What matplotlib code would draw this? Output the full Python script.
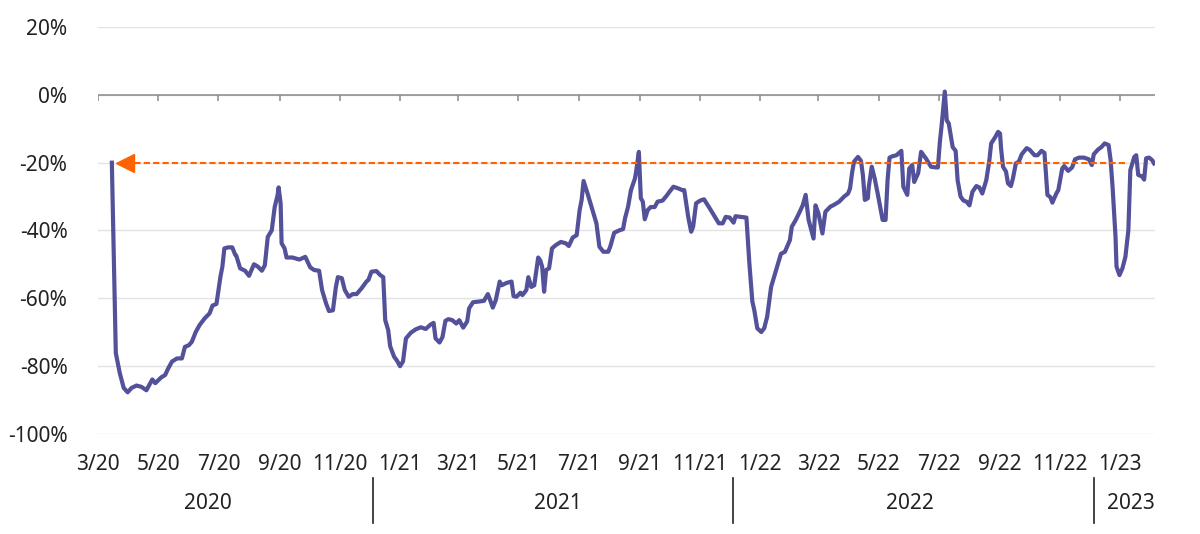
import matplotlib.pyplot as plt
import matplotlib.transforms as mtransforms
import pandas as pd

# % change
dates = [
    "2020-03-15", "2020-03-19", "2020-03-23", "2020-03-27", "2020-03-31", "2020-04-04",
    "2020-04-09", "2020-04-14", "2020-04-19", "2020-04-22", "2020-04-25", "2020-04-28",
    "2020-05-04", "2020-05-08", "2020-05-11", "2020-05-15", "2020-05-20", "2020-05-25",
    "2020-05-28", "2020-06-01", "2020-06-04", "2020-06-08", "2020-06-12", "2020-06-17",
    "2020-06-22", "2020-06-25", "2020-06-29", "2020-07-03", "2020-07-05", "2020-07-07",
    "2020-07-11", "2020-07-15", "2020-07-18", "2020-07-19", "2020-07-23", "2020-07-28",
    "2020-08-01", "2020-08-06", "2020-08-10", "2020-08-14", "2020-08-17", "2020-08-20",
    "2020-08-24", "2020-08-27", "2020-08-30", "2020-08-31", "2020-09-02", "2020-09-03",
    "2020-09-06", "2020-09-08", "2020-09-14", "2020-09-21", "2020-09-27", "2020-10-02",
    "2020-10-06", "2020-10-11", "2020-10-14", "2020-10-18", "2020-10-21", "2020-10-25",
    "2020-10-28", "2020-10-30", "2020-11-03", "2020-11-06", "2020-11-10", "2020-11-14",
    "2020-11-18", "2020-11-23", "2020-11-28", "2020-11-30", "2020-12-03", "2020-12-08",
    "2020-12-12", "2020-12-15", "2020-12-17", "2020-12-20", "2020-12-22", "2020-12-26",
    "2020-12-29", "2021-01-01", "2021-01-04", "2021-01-07", "2021-01-12", "2021-01-17",
    "2021-01-22", "2021-01-27", "2021-02-01", "2021-02-04", "2021-02-06", "2021-02-10",
    "2021-02-13", "2021-02-16", "2021-02-19", "2021-02-23", "2021-02-27", "2021-03-02",
    "2021-03-06", "2021-03-10", "2021-03-12", "2021-03-16", "2021-03-22", "2021-03-27",
    "2021-03-31", "2021-04-02", "2021-04-05", "2021-04-08", "2021-04-12", "2021-04-14",
    "2021-04-19", "2021-04-24", "2021-04-26", "2021-04-29", "2021-05-03", "2021-05-05",
    "2021-05-09", "2021-05-11", "2021-05-14", "2021-05-17", "2021-05-21", "2021-05-23",
    "2021-05-25", "2021-05-27", "2021-05-29", "2021-06-01", "2021-06-04", "2021-06-08",
    "2021-06-13", "2021-06-18", "2021-06-21", "2021-06-25", "2021-06-29", "2021-07-02",
    "2021-07-04", "2021-07-06", "2021-07-10", "2021-07-15", "2021-07-19", "2021-07-22",
    "2021-07-26", "2021-07-31", "2021-08-02", "2021-08-06", "2021-08-11", "2021-08-15",
    "2021-08-17", "2021-08-20", "2021-08-23", "2021-08-27", "2021-08-28", "2021-08-31",
    "2021-09-02", "2021-09-04", "2021-09-06", "2021-09-09", "2021-09-12", "2021-09-16",
    "2021-09-19", "2021-09-24", "2021-09-28", "2021-10-01", "2021-10-05", "2021-10-10",
    "2021-10-14", "2021-10-16", "2021-10-20", "2021-10-23", "2021-10-25", "2021-10-28",
    "2021-11-01", "2021-11-05", "2021-11-10", "2021-11-15", "2021-11-20", "2021-11-24",
    "2021-11-27", "2021-12-01", "2021-12-05", "2021-12-07", "2021-12-12", "2021-12-18",
    "2021-12-21", "2021-12-24", "2021-12-26", "2021-12-29", "2022-01-02", "2022-01-05",
    "2022-01-08", "2022-01-12", "2022-01-15", "2022-01-19", "2022-01-22", "2022-01-26",
    "2022-01-31", "2022-02-02", "2022-02-06", "2022-02-10", "2022-02-13", "2022-02-16",
    "2022-02-19", "2022-02-24", "2022-02-26", "2022-03-01", "2022-03-05", "2022-03-08",
    "2022-03-13", "2022-03-17", "2022-03-22", "2022-03-27", "2022-03-31", "2022-04-02",
    "2022-04-04", "2022-04-06", "2022-04-10", "2022-04-13", "2022-04-15", "2022-04-17",
    "2022-04-20", "2022-04-21", "2022-04-24", "2022-04-27", "2022-04-30", "2022-05-05",
    "2022-05-08", "2022-05-10", "2022-05-12", "2022-05-15", "2022-05-19", "2022-05-24",
    "2022-05-26", "2022-05-30", "2022-06-01", "2022-06-04", "2022-06-06", "2022-06-10",
    "2022-06-13", "2022-06-18", "2022-06-23", "2022-06-28", "2022-06-30", "2022-07-02",
    "2022-07-04", "2022-07-07", "2022-07-09", "2022-07-11", "2022-07-15", "2022-07-18",
    "2022-07-20", "2022-07-23", "2022-07-26", "2022-07-29", "2022-08-01", "2022-08-04",
    "2022-08-08", "2022-08-11", "2022-08-14", "2022-08-18", "2022-08-21", "2022-08-23",
    "2022-08-27", "2022-08-30", "2022-09-01", "2022-09-02", "2022-09-04", "2022-09-07",
    "2022-09-09", "2022-09-12", "2022-09-14", "2022-09-17", "2022-09-20", "2022-09-23",
    "2022-09-28", "2022-10-01", "2022-10-06", "2022-10-09", "2022-10-13", "2022-10-16",
    "2022-10-19", "2022-10-22", "2022-10-24", "2022-10-28", "2022-10-30", "2022-11-03",
    "2022-11-05", "2022-11-09", "2022-11-13", "2022-11-16", "2022-11-20", "2022-11-25",
    "2022-11-30", "2022-12-03", "2022-12-05", "2022-12-09", "2022-12-13", "2022-12-16",
    "2022-12-20", "2022-12-22", "2022-12-24", "2022-12-27", "2022-12-28", "2022-12-31",
    "2023-01-03", "2023-01-06", "2023-01-09", "2023-01-11", "2023-01-15", "2023-01-17",
    "2023-01-19", "2023-01-23", "2023-01-25", "2023-01-27", "2023-01-30", "2023-02-02",
    "2023-02-04",
]
values = [
    -20.0, -76.2, -82.1, -86.5, -87.8, -86.5,
    -85.8, -86.2, -87.2, -85.6, -84.0, -85.1,
    -83.4, -82.7, -80.8, -78.7, -77.8, -77.8,
    -74.4, -73.9, -72.9, -70.0, -67.9, -66.0,
    -64.5, -62.2, -61.7, -53.7, -50.7, -45.3,
    -45.0, -45.0, -47.2, -47.4, -51.2, -51.9,
    -53.4, -50.0, -50.7, -51.9, -50.3, -41.9,
    -40.0, -33.1, -29.5, -27.3, -32.0, -43.8,
    -45.3, -48.0, -48.0, -48.6, -47.8, -50.9,
    -51.7, -51.9, -57.6, -61.5, -63.8, -63.6,
    -56.7, -53.8, -54.1, -57.6, -59.6, -58.8,
    -58.8, -57.1, -55.1, -54.6, -52.2, -52.0,
    -53.2, -53.8, -66.5, -69.4, -74.2, -77.3,
    -78.5, -80.1, -78.7, -71.9, -70.2, -69.2,
    -68.6, -69.1, -67.8, -67.3, -71.9, -73.1,
    -71.5, -66.7, -66.2, -66.5, -67.5, -66.5,
    -68.7, -66.9, -63.0, -61.2, -61.0, -60.8,
    -58.8, -60.3, -62.8, -60.6, -55.1, -56.2,
    -55.5, -55.1, -59.4, -59.6, -58.4, -59.1,
    -57.6, -53.8, -56.7, -56.2, -48.0, -48.8,
    -50.7, -58.1, -51.7, -51.2, -45.3, -44.3,
    -43.4, -43.8, -44.6, -42.1, -41.4, -34.0,
    -31.0, -25.4, -29.1, -34.0, -37.9, -44.8,
    -46.3, -46.3, -44.8, -40.7, -40.0, -39.6,
    -36.4, -33.1, -28.1, -24.7, -23.1, -16.8,
    -30.5, -31.5, -36.7, -34.0, -33.1, -33.1,
    -31.5, -31.2, -29.8, -28.6, -27.1, -27.6,
    -28.1, -28.1, -36.0, -40.4, -38.9, -32.0,
    -31.2, -30.8, -33.1, -35.5, -37.9, -37.9,
    -36.0, -36.2, -37.7, -35.8, -36.0, -36.2,
    -49.8, -61.0, -63.6, -68.9, -70.0, -68.9,
    -65.5, -56.7, -53.7, -49.8, -46.9, -46.3,
    -42.9, -38.9, -36.9, -34.5, -32.6, -29.5,
    -36.9, -42.4, -32.6, -35.0, -40.9, -34.5,
    -33.0, -32.4, -31.5, -30.0, -29.1, -27.6,
    -23.1, -19.7, -18.3, -19.4, -23.6, -31.0,
    -30.5, -27.1, -21.2, -24.7, -29.1, -36.9,
    -36.9, -25.2, -18.5, -18.1, -17.8, -16.5,
    -27.1, -29.5, -21.7, -20.7, -25.7, -23.1,
    -16.8, -18.8, -21.2, -21.4, -21.4, -13.9,
    -8.4, 1.0, -7.5, -8.4, -15.4, -16.5,
    -25.2, -30.0, -31.2, -31.5, -32.6, -28.6,
    -26.9, -27.3, -29.1, -25.2, -19.7, -14.3,
    -12.5, -10.9, -11.4, -15.7, -21.2, -22.6,
    -26.1, -26.9, -24.7, -20.2, -19.7, -17.5,
    -15.7, -16.2, -17.8, -17.8, -16.5, -17.1,
    -29.5, -30.2, -31.8, -29.1, -28.1, -21.7,
    -21.0, -22.4, -21.4, -19.0, -18.5, -18.5,
    -19.0, -20.7, -17.5, -16.2, -15.3, -14.3,
    -14.8, -19.2, -27.1, -41.9, -50.7, -53.2,
    -51.2, -47.8, -40.0, -22.2, -18.3, -17.8,
    -23.6, -24.1, -25.0, -18.7, -18.5, -19.2,
    -20.2,
]

y_ticks = [20, 0, -20, -40, -60, -80, -100]
x_tick_dates = pd.date_range("2020-03-01", "2023-01-01", freq="2MS")
x_tick_labels = [f"{d.month}/{d.year % 100}" for d in x_tick_dates]

years = ["2020", "2021", "2022", "2023"]
year_label_dates = ["2020-06-20", "2021-06-10", "2022-06-02", "2023-01-12"]
year_split_dates = ["2020-12-05", "2021-12-04", "2022-12-05"]

ref_level = -20
ref_start = "2020-03-28"
ref_end = "2023-01-08"

PURPLE = "#525199"
ORANGE = "#FF6200"
TEXT = "#222222"

plt.rcParams["font.family"] = ["Noto Sans", "DejaVu Sans"]

fig = plt.figure(figsize=(12, 5.34), dpi=100)
ax = fig.add_axes([0.0817, 0.188, 0.8808, 0.761])

x = pd.to_datetime(dates)
ax.plot(x, values, color=PURPLE, lw=3, solid_joinstyle="round", zorder=3)

# -20% reference with arrow head at the start
rx = pd.to_datetime([ref_start, ref_end])
ax.plot(rx, [ref_level, ref_level], color=ORANGE, lw=1.5, ls=(0, (3, 1.5)), zorder=4)
ax.plot(rx[:1], [ref_level], marker="<", color=ORANGE, ms=13, mec=ORANGE, zorder=5)

ax.set_xlim(pd.Timestamp("2020-03-01"), pd.Timestamp("2023-02-05"))
ax.set_ylim(-100, 20)

for s in ax.spines.values():
    s.set_visible(False)

ax.set_yticks(y_ticks)
ax.set_yticklabels([f"{v}%" for v in y_ticks])
ax.yaxis.grid(True, color="#e3e3e3", lw=1)
ax.set_axisbelow(True)

# zero axis line with small ticks
ax.axhline(0, color="#8a8a8a", lw=1.1, zorder=2)
ax.vlines(x_tick_dates, -1.8, 0, color="#8a8a8a", lw=1.1, zorder=2)

ax.set_xticks(x_tick_dates)
ax.set_xticklabels(x_tick_labels)
ax.tick_params(axis="both", length=0, labelsize=15, labelcolor=TEXT)
ax.tick_params(axis="x", pad=15)
ax.tick_params(axis="y", pad=22)

trans = mtransforms.blended_transform_factory(ax.transData, ax.transAxes)
for d in year_split_dates:
    ax.plot([pd.Timestamp(d)] * 2, [-0.11, -0.22], color="#222222", lw=1.2,
            transform=trans, clip_on=False)
for label, d in zip(years, year_label_dates):
    ax.text(pd.Timestamp(d), -0.173, label, transform=trans, ha="center", va="center",
            fontsize=15, color=TEXT)

fig.savefig("out.png", dpi=100)
